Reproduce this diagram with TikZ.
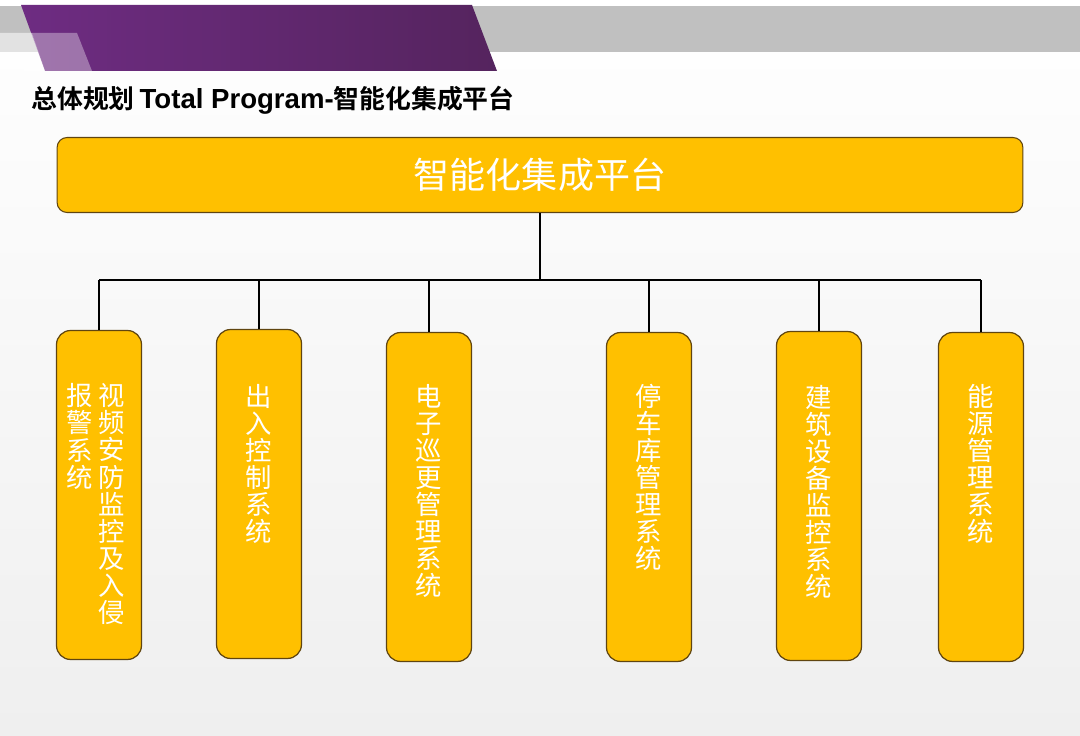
\documentclass[tikz,border=0pt]{standalone}
\usepackage{fontspec}
\setmainfont{Liberation Sans}
\newfontfamily\cjk{Noto Sans CJK SC}[BoldFont={Noto Sans CJK SC Bold}]
\usetikzlibrary{positioning,calc}
\definecolor{boxgold}{HTML}{FFC000}
\definecolor{boxedge}{HTML}{604510}
\definecolor{bandgray}{HTML}{C0C0C0}
\definecolor{headpurple}{HTML}{6E2C82}
\definecolor{headpurpledark}{HTML}{55245E}
\definecolor{paper}{HTML}{EFEFEF}

\tikzset{
  platform/.style={draw=boxedge, fill=boxgold, rounded corners=0.2cm, line width=0.6pt,
    minimum width=19.32cm, minimum height=1.5cm, text=white, font=\cjk\fontsize{20.5}{24}\selectfont},
  subbox/.style={draw=boxedge, fill=boxgold, rounded corners=0.28cm, line width=0.7pt,
    minimum width=1.7cm, minimum height=6.58cm},
  vlabel/.style={text=white, anchor=north, align=center, inner sep=0pt,
    font=\cjk\fontsize{15}{15.4}\selectfont},
  link/.style={line width=0.8pt}
}

\begin{document}
\begin{tikzpicture}[x=0.02cm,y=-0.02cm]
  \useasboundingbox (0,0) rectangle (1080,736);
  \shade[top color=white, bottom color=paper] (0,0) rectangle (1080,736);
  \fill[bandgray] (0,6) rectangle (1080,52);
  \shade[left color=headpurple, right color=headpurpledark] (21,5) -- (472,5) -- (497,71) -- (45,71) -- cycle;
  \fill[white, opacity=0.55] (0,33) -- (32,33) -- (45,71) -- (24,71) -- (22,52) -- (0,52) -- cycle;
  \fill[white, opacity=0.35] (32,33) -- (77,33) -- (92,71) -- (45,71) -- cycle;
  \node[anchor=west, inner sep=0pt] (title) at (31,100)
    {\cjk\bfseries\fontsize{14.7}{16}\selectfont 总体规划\hspace{0.1cm}{\rmfamily\bfseries\fontsize{15.7}{16}\selectfont Total Program-}智能化集成平台};

  \node[platform] (top) at (540,175) {智能化集成平台};
  \coordinate (bus) at (540,280);

  \node[subbox] (b1) at (99,495) {};
  \node[subbox] (b2) at (259,494) {};
  \node[subbox] (b3) at (429,497) {};
  \node[subbox] (b4) at (649,497) {};
  \node[subbox] (b5) at (819,496) {};
  \node[subbox] (b6) at (981,497) {};

  \node[vlabel, below=1.07cm of b1.north, xshift=0.26cm] (l1a) {视\\频\\安\\防\\监\\控\\及\\入\\侵};
  \node[vlabel, below=1.07cm of b1.north, xshift=-0.38cm] (l1b) {报\\警\\系\\统};
  \node[vlabel, below=1.1cm of b2.north] (l2) {出\\入\\控\\制\\系\\统};
  \node[vlabel, below=1.04cm of b3.north] (l3) {电\\子\\巡\\更\\管\\理\\系\\统};
  \node[vlabel, below=1.04cm of b4.north] (l4) {停\\车\\库\\管\\理\\系\\统};
  \node[vlabel, below=1.08cm of b5.north] (l5) {建\\筑\\设\\备\\监\\控\\系\\统};
  \node[vlabel, below=1.04cm of b6.north] (l6) {能\\源\\管\\理\\系\\统};

  \draw[link] (top.south) -- (bus);
  \draw[link] (b1.north |- bus) -- (b6.north |- bus);
  \foreach \b in {b1,b2,b3,b4,b5,b6}
    \draw[link] (\b.north) -- (\b.north |- bus);
\end{tikzpicture}
\end{document}
